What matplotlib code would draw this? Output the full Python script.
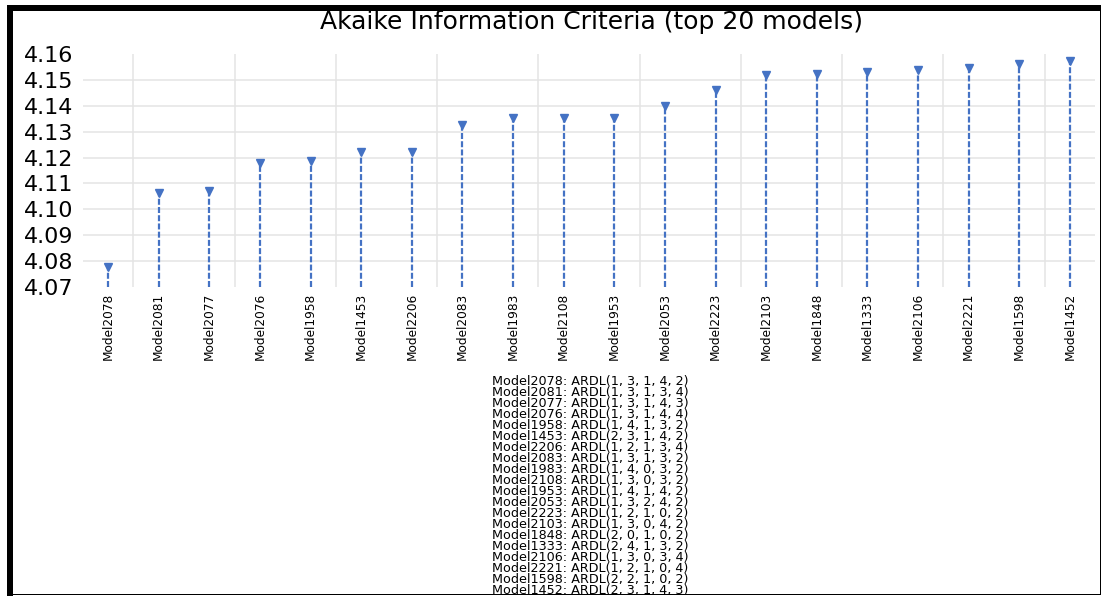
import numpy as np
import matplotlib
matplotlib.use("Agg")
import matplotlib.pyplot as plt
from matplotlib.patches import Rectangle

# Top 20 ARDL models ranked by Akaike information criterion
models = ["Model2078", "Model2081", "Model2077", "Model2076", "Model1958",
          "Model1453", "Model2206", "Model2083", "Model1983", "Model2108",
          "Model1953", "Model2053", "Model2223", "Model2103", "Model1848",
          "Model1333", "Model2106", "Model2221", "Model1598", "Model1452"]
aic = [4.0776, 4.1062, 4.1070, 4.1179, 4.1185,
       4.1221, 4.1221, 4.1325, 4.1352, 4.1352,
       4.1354, 4.1398, 4.1463, 4.1519, 4.1524,
       4.1533, 4.1539, 4.1546, 4.1562, 4.1575]
specs = ["ARDL(1, 3, 1, 4, 2)", "ARDL(1, 3, 1, 3, 4)", "ARDL(1, 3, 1, 4, 3)",
         "ARDL(1, 3, 1, 4, 4)", "ARDL(1, 4, 1, 3, 2)", "ARDL(2, 3, 1, 4, 2)",
         "ARDL(1, 2, 1, 3, 4)", "ARDL(1, 3, 1, 3, 2)", "ARDL(1, 4, 0, 3, 2)",
         "ARDL(1, 3, 0, 3, 2)", "ARDL(1, 4, 1, 4, 2)", "ARDL(1, 3, 2, 4, 2)",
         "ARDL(1, 2, 1, 0, 2)", "ARDL(1, 3, 0, 4, 2)", "ARDL(2, 0, 1, 0, 2)",
         "ARDL(2, 4, 1, 3, 2)", "ARDL(1, 3, 0, 3, 4)", "ARDL(1, 2, 1, 0, 4)",
         "ARDL(2, 2, 1, 0, 2)", "ARDL(2, 3, 1, 4, 3)"]
y_ticks = [4.07, 4.08, 4.09, 4.10, 4.11, 4.12, 4.13, 4.14, 4.15, 4.16]
title = "Akaike Information Criteria (top 20 models)"

BLUE = "#4472C4"
GRID = "#e4e4e4"
W, H = 1102, 596

plt.rcParams["font.family"] = ["DejaVu Sans"]
fig = plt.figure(figsize=(W / 100, H / 100), dpi=100)
fig.patch.set_facecolor("white")

def px(x0, y0, x1, y1):
    """Figure-fraction rectangle from pixel edges (origin top-left)."""
    return [x0 / W, 1 - y1 / H, (x1 - x0) / W, (y1 - y0) / H]

ax = fig.add_axes(px(82.7, 54.3, 1095.3, 286.5))
x = np.arange(len(models))

# gridlines
for v in y_ticks[1:-1]:
    ax.axhline(v, color=GRID, lw=1.1, zorder=0)
for g in np.arange(0.5, len(models) - 1, 2):
    ax.axvline(g, color=GRID, lw=1.1, zorder=0)

# dashed drop lines with a marker at each criterion value
ax.vlines(x, y_ticks[0], aic, colors=BLUE, lw=1.6,
          linestyles=(0, (2.7, 1.0)), zorder=2)
ax.plot(x, aic, linestyle="none", marker="v", color=BLUE, ms=5.5, zorder=3)

ax.set_xlim(-0.5, len(models) - 0.5)
ax.set_ylim(y_ticks[0], y_ticks[-1])
ax.set_yticks(y_ticks, [f"{v:.2f}" for v in y_ticks], fontsize=16)
ax.set_xticks(x, models, rotation=90)
for lab in ax.get_xticklabels():
    lab.set_fontsize(9.7)
    lab.set_fontstretch("condensed")
ax.tick_params(axis="y", length=0, pad=7)
ax.tick_params(axis="x", length=0, pad=4.5)
for s in ax.spines.values():
    s.set_visible(False)

fig.text(591 / W, 1 - 22 / H, title, ha="center", va="center", fontsize=18)

# model specification list
for i, (m, s) in enumerate(zip(models, specs)):
    fig.text(492 / W, 1 - (381 + 11.05 * i) / H, f"{m}: {s}",
             ha="left", va="center", fontsize=9.2)

# frame
for rect in [px(7, 5, 13, 596), px(7, 5, 1101, 11),
             px(1100, 11, 1101, 594), px(13, 593.5, 1101, 594.5)]:
    fig.add_artist(Rectangle((rect[0], rect[1]), rect[2], rect[3],
                             transform=fig.transFigure, color="black", lw=0))

fig.savefig("out.png", dpi=100)
